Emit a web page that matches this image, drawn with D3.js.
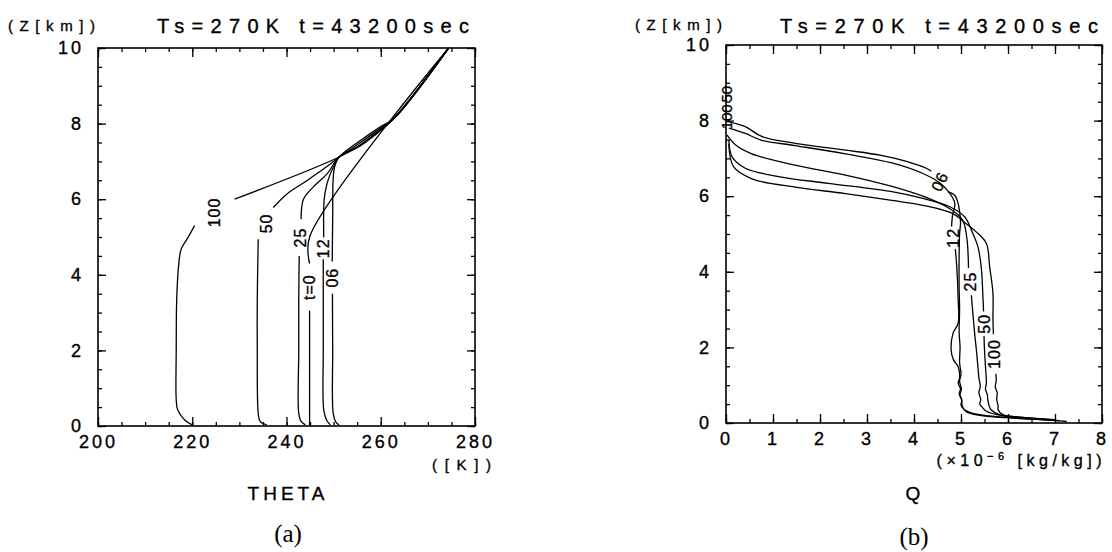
<!DOCTYPE html>
<html>
<head>
<meta charset="utf-8">
<title>THETA and Q profiles</title>
<script src="https://d3js.org/d3.v7.min.js"></script>
<style>
  body { margin: 0; background: #fff; }
  svg { display: block; font-family: "Liberation Sans", Arial, sans-serif; }
  svg text { stroke: #000; stroke-width: 0.35px; }
  .tick text { font-family: "Liberation Sans", Arial, sans-serif; font-size: 18px; letter-spacing: 3px; fill: #000; }
  .tick line { stroke: #000; stroke-width: 1.3; }
  .curve { fill: none; stroke: #000; stroke-width: 1.3; }
  .frame { fill: none; stroke: #000; stroke-width: 1.6; }
  .serif { font-family: "Liberation Serif", "DejaVu Serif", serif; stroke-width: 0; }
</style>
</head>
<body>
<div id="chart"></div>
<script>
// (a) THETA profiles, [K, km], read bottom -> top
const theta00 = [[244.9,0],[244.9,3.05],[244.9,4.3],[244.9,5.0],[274.4,10]];
const theta06 = [[251.1,0.03],[250.4,0.12],[249.9,0.34],[249.8,2.0],[249.75,3.5],[249.7,4.35],[249.8,5.5],[249.9,6.54],[250.2,6.85],[251.1,7.11],[255.0,7.36],[259.0,7.72],[262.9,8.15],[274.4,10]];
const theta12 = [[249.3,0.03],[248.5,0.16],[247.9,0.43],[247.8,2.0],[247.8,3.35],[247.8,4.41],[247.9,4.99],[248.0,6.0],[248.5,6.36],[249.3,6.67],[250.4,6.95],[251.1,7.11],[255.2,7.4],[259.2,7.75],[262.9,8.15],[274.4,10]];
const theta25 = [[244.0,0.03],[243.1,0.12],[242.6,0.34],[242.6,2.0],[242.6,3.35],[242.7,4.5],[243.1,5.47],[243.6,6.0],[245.8,6.34],[248.6,6.67],[251.1,7.11],[256.0,7.58],[260.0,7.92],[262.9,8.15],[274.4,10]];
const theta50 = [[235.8,0.03],[234.4,0.12],[234.0,0.34],[233.8,2.0],[233.8,3.35],[234.0,4.94],[237.2,5.78],[240.1,6.14],[244.3,6.49],[249.3,6.93],[251.1,7.11],[255.7,7.5],[259.8,7.86],[262.9,8.15],[274.4,10]];
const theta100 = [[220.0,0.03],[218.4,0.16],[216.9,0.43],[216.6,0.69],[216.6,2.0],[216.7,3.35],[217.1,4.23],[217.65,4.68],[219.1,4.99],[220.5,5.3],[229.0,6.0],[251.1,7.11],[255.5,7.42],[259.5,7.8],[262.9,8.15],[274.4,10]];

// (b) Q profiles, [1e-6 kg/kg, km], read top -> bottom
const q06 = [[0.02,7.98],[0.41,7.84],[0.76,7.58],[1.47,7.4],[2.54,7.22],[3.3,7.08],[3.84,6.92],[4.26,6.74],[4.37,6.66],[4.72,6.12],[4.87,6.02],[4.93,5.85],[4.97,5.6],[4.99,5.3],[4.97,5.0],[4.96,4.4],[4.96,3.6],[4.97,3.0],[4.96,2.4],[4.98,2.0],[4.97,1.6],[5.0,1.3],[4.97,1.1],[5.01,0.9],[4.98,0.75],[5.02,0.6],[5.0,0.48],[5.05,0.38],[5.15,0.3],[5.3,0.24],[5.6,0.19],[5.96,0.15],[6.5,0.1],[7.0,0.07],[7.25,0.04]];
const q12 = [[0.06,7.8],[0.41,7.66],[0.76,7.48],[1.47,7.34],[2.54,7.12],[3.53,6.88],[4.19,6.6],[4.55,6.35],[4.76,6.08],[4.87,5.8],[4.82,5.5],[4.8,5.2],[4.88,4.6],[4.91,4.13],[4.94,3.25],[4.94,2.64],[4.83,2.37],[4.79,1.93],[4.84,1.67],[4.94,1.49],[4.97,1.2],[4.94,1.05],[4.99,0.9],[4.96,0.78],[5.01,0.62],[5.03,0.44],[5.11,0.3],[5.4,0.2],[5.96,0.14],[6.6,0.1],[7.1,0.06]];
const q25 = [[0.02,7.62],[0.2,7.36],[0.55,7.12],[1.47,6.82],[2.54,6.56],[3.53,6.26],[4.19,6.0],[4.69,5.72],[4.97,5.47],[5.06,5.3],[5.13,4.84],[5.16,4.1],[5.22,3.38],[5.29,2.37],[5.33,1.9],[5.36,1.49],[5.38,1.2],[5.41,0.97],[5.38,0.8],[5.42,0.62],[5.4,0.5],[5.45,0.42],[5.54,0.31],[5.89,0.19],[6.4,0.13],[7.0,0.08]];
const q50 = [[0.06,7.48],[0.13,7.04],[0.41,6.74],[1.12,6.52],[2.18,6.34],[3.53,6.12],[4.19,5.94],[4.76,5.72],[5.08,5.45],[5.25,5.02],[5.36,4.66],[5.43,4.13],[5.47,3.25],[5.48,2.95],[5.49,2.3],[5.5,1.93],[5.52,1.5],[5.54,1.05],[5.52,0.9],[5.56,0.75],[5.57,0.62],[5.6,0.45],[5.64,0.35],[5.82,0.22],[6.2,0.16],[6.9,0.09]];
const q100 = [[0.06,7.38],[0.16,6.78],[0.55,6.46],[1.47,6.24],[2.54,6.07],[3.53,5.89],[4.19,5.76],[4.83,5.54],[5.11,5.27],[5.33,5.05],[5.54,4.75],[5.61,4.13],[5.68,3.43],[5.68,2.73],[5.69,2.35],[5.74,1.3],[5.75,1.14],[5.73,0.95],[5.77,0.8],[5.76,0.62],[5.79,0.45],[5.79,0.35],[5.89,0.22],[6.3,0.15],[7.0,0.09]];

// contour labels: text, series, index after which the line is broken for the label
const thetaLabels = [["t=0", theta00, 1], ["06", theta06, 4], ["12", theta12, 5], ["25", theta25, 5], ["50", theta50, 5], ["100", theta100, 9]];
const qLabels = [["06", q06, 8], ["12", q12, 11], ["25", q25, 11], ["50", q50, 13], ["100", q100, 14]];
const qAxisLabels = [["100", 8.1], ["50", 8.7]];

const thetaMajor = [200, 220, 240, 260, 280];
const qMajor = [0, 1, 2, 3, 4, 5, 6, 7, 8];
const zMajor = [0, 2, 4, 6, 8, 10];

const svg = d3.select("#chart").append("svg")
    .attr("width", 1112)
    .attr("height", 552);

function panel(p) {
    const x = d3.scaleLinear().domain(p.xDomain).range([p.left, p.right]);
    const y = d3.scaleLinear().domain([0, 10]).range([p.bottom, p.top]);
    const g = svg.append("g");

    const noDomain = s => s.select(".domain").remove();
    // inward ticks on all four sides
    g.append("g").attr("transform", `translate(0,${p.bottom})`)
        .call(d3.axisBottom(x).tickValues(p.xMinor).tickSize(-4).tickFormat("")).call(noDomain);
    g.append("g").attr("transform", `translate(0,${p.bottom})`)
        .call(d3.axisBottom(x).tickValues(p.xMajor).tickSize(-9).tickPadding(9).tickFormat(d3.format("d"))).call(noDomain);
    g.append("g").attr("transform", `translate(0,${p.top})`)
        .call(d3.axisTop(x).tickValues(p.xMinor).tickSize(-4).tickFormat("")).call(noDomain);
    g.append("g").attr("transform", `translate(0,${p.top})`)
        .call(d3.axisTop(x).tickValues(p.xMajor).tickSize(-9).tickFormat("")).call(noDomain);
    g.append("g").attr("transform", `translate(${p.left},0)`)
        .call(d3.axisLeft(y).tickValues(d3.range(0, 10.01, 0.5)).tickSize(-4).tickFormat("")).call(noDomain);
    g.append("g").attr("transform", `translate(${p.left},0)`)
        .call(d3.axisLeft(y).tickValues(zMajor).tickSize(-8).tickPadding(14).tickFormat(d3.format("d"))).call(noDomain);
    g.append("g").attr("transform", `translate(${p.right},0)`)
        .call(d3.axisRight(y).tickValues(d3.range(0, 10.01, 0.5)).tickSize(-4).tickFormat("")).call(noDomain);
    g.append("g").attr("transform", `translate(${p.right},0)`)
        .call(d3.axisRight(y).tickValues(zMajor).tickSize(-8).tickFormat("")).call(noDomain);

    g.append("rect").attr("class", "frame")
        .attr("x", p.left).attr("y", p.top)
        .attr("width", p.right - p.left).attr("height", p.bottom - p.top);

    const line = d3.line().x(d => x(d[0])).y(d => y(d[1])).curve(d3.curveCatmullRom.alpha(0.5));

    p.labels.forEach(([txt, pts, brk]) => {
        g.append("path").attr("class", "curve").attr("d", line(pts.slice(0, brk + 1)));
        g.append("path").attr("class", "curve").attr("d", line(pts.slice(brk + 1)));
        const a = pts[brk], b = pts[brk + 1];
        const cx = (x(a[0]) + x(b[0])) / 2, cy = (y(a[1]) + y(b[1])) / 2;
        g.append("text")
            .attr("transform", `translate(${cx},${cy}) rotate(${txt === "06" && p.tilt ? -65 : -90})`)
            .attr("text-anchor", "middle")
            .attr("dy", "0.36em")
            .style("font-size", "16px")
            .style("letter-spacing", "1px")
            .text(txt);
    });
    return { x, y, g };
}

const a = panel({
    left: 98, right: 475, top: 48, bottom: 426,
    xDomain: [200, 280], xMajor: thetaMajor, xMinor: d3.range(200, 280.1, 5),
    labels: thetaLabels
});
const b = panel({
    left: 726, right: 1102, top: 45, bottom: 423,
    xDomain: [0, 8], xMajor: qMajor, xMinor: d3.range(0, 8.01, 0.5),
    labels: qLabels, tilt: true
});

qAxisLabels.forEach(([txt, z]) => {
    b.g.append("text")
        .attr("transform", `translate(${b.x(0) + 1},${b.y(z)}) rotate(-90)`)
        .attr("text-anchor", "middle")
        .attr("dy", "0.36em")
        .style("font-size", "15px")
        .text(txt);
});

// titles and axis captions
function txt(x, y, s, size, anchor, len) {
    const t = svg.append("text").attr("x", x).attr("y", y)
        .attr("text-anchor", anchor || "start")
        .style("font-size", size + "px")
        .text(s);
    if (len) t.attr("textLength", len).attr("lengthAdjust", "spacing");
    return t;
}
txt(8, 31, "(Z[km])", 15, "start", 87);
txt(157, 33, "Ts=270K  t=43200sec", 20, "start", 312);
txt(432, 470, "([K])", 15, "start", 59);
txt(288, 500, "THETA", 19, "middle").style("letter-spacing", "4px");

txt(635, 30, "(Z[km])", 15, "start", 87);
txt(780, 33, "Ts=270K  t=43200sec", 20, "start", 318);
const unit = svg.append("text").attr("x", 1106).attr("y", 466)
    .attr("text-anchor", "end")
    .style("font-size", "16px").style("letter-spacing", "4.5px");
unit.append("tspan").text("(×10");
unit.append("tspan").attr("dy", -6).style("font-size", "11px").text("−6");
unit.append("tspan").attr("dy", 6).text(" [kg/kg])");
txt(913, 500, "Q", 19, "middle");

txt(288, 542, "(a)", 25, "middle").attr("class", "serif");
txt(914, 545, "(b)", 25, "middle").attr("class", "serif");
</script>
</body>
</html>
